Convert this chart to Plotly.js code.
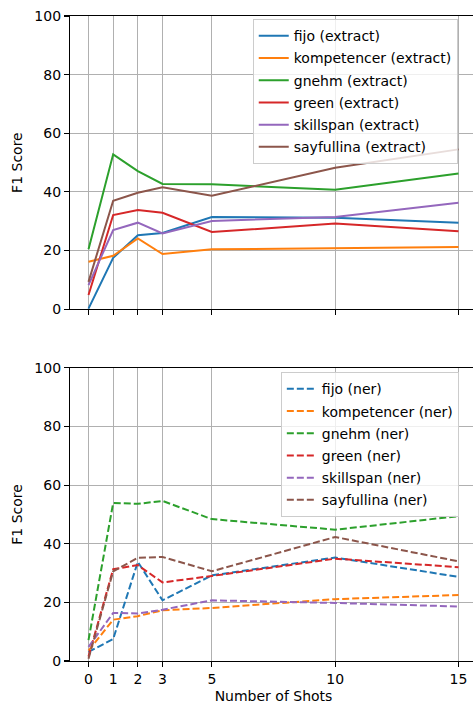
<!DOCTYPE html>
<html>
<head>
<meta charset="utf-8">
<script src="https://cdn.plot.ly/plotly-3.0.1.min.js"></script>
<style>
html,body{margin:0;padding:0;overflow:hidden;background:#fff;}
#chart{width:477px;height:704px;}
</style>
</head>
<body>
<div id="chart"></div>
<script>
const shots = [0, 1, 2, 3, 5, 10, 15];
const datasets = ["fijo", "kompetencer", "gnehm", "green", "skillspan", "sayfullina"];
const colors = ["#1f77b4", "#ff7f0e", "#2ca02c", "#d62728", "#9467bd", "#8c564b"];

const fijoExtract        = [0.2, 17.5, 25.2, 26.0, 31.4, 31.2, 29.5];
const kompetencerExtract = [16.2, 18.2, 24.1, 18.8, 20.4, 20.8, 21.2];
const gnehmExtract       = [20.4, 52.8, 47.1, 42.7, 42.6, 40.7, 46.3];
const greenExtract       = [4.8, 32.1, 33.8, 32.9, 26.3, 29.2, 26.6];
const skillspanExtract   = [8.2, 27.0, 29.5, 25.8, 30.1, 31.4, 36.3];
const sayfullinaExtract  = [9.3, 37.0, 39.7, 41.6, 38.7, 48.2, 54.5];

const fijoNer        = [3.1, 7.5, 33.8, 20.7, 29.2, 35.3, 28.7];
const kompetencerNer = [3.5, 14.1, 15.3, 17.3, 18.1, 21.1, 22.5];
const gnehmNer       = [7.1, 53.9, 53.6, 54.6, 48.4, 44.8, 49.4];
const greenNer       = [1.5, 31.3, 32.7, 26.8, 29.0, 34.9, 32.0];
const skillspanNer   = [4.8, 16.4, 16.2, 17.5, 20.7, 19.8, 18.6];
const sayfullinaNer  = [0.8, 30.6, 35.2, 35.5, 30.6, 42.3, 34.0];

const extractSeries = [fijoExtract, kompetencerExtract, gnehmExtract, greenExtract, skillspanExtract, sayfullinaExtract];
const nerSeries = [fijoNer, kompetencerNer, gnehmNer, greenNer, skillspanNer, sayfullinaNer];

const traces = [];
datasets.forEach((d, i) => {
  traces.push({
    x: shots, y: extractSeries[i], type: 'scatter', mode: 'lines',
    name: d + ' (extract)', legendgroup: 'e' + i, legend: 'legend',
    line: {color: colors[i], width: 2},
    xaxis: 'x', yaxis: 'y'
  });
});
datasets.forEach((d, i) => {
  traces.push({
    x: shots, y: nerSeries[i], type: 'scatter', mode: 'lines',
    name: d + ' (ner)', legendgroup: 'n' + i, legend: 'legend2',
    line: {color: colors[i], width: 2, dash: '7px,3px'},
    xaxis: 'x2', yaxis: 'y2'
  });
});

const font = {family: 'DejaVu Sans', size: 14, color: '#000'};
const axisCommon = {
  showline: true, linecolor: '#000', linewidth: 1.1, mirror: true,
  ticks: 'outside', ticklen: 5, tickwidth: 1.1, tickcolor: '#000',
  showgrid: true, gridcolor: '#b0b0b0', gridwidth: 1.1, zeroline: false,
  tickfont: font
};
const xCommon = Object.assign({}, axisCommon, {
  range: [-0.75, 15.75], tickmode: 'array', tickvals: shots, ticktext: shots.map(String)
});
const yCommon = Object.assign({}, axisCommon, {
  range: [0, 100], tickmode: 'array', tickvals: [0, 20, 40, 60, 80, 100]
});

const legendCommon = {
  bgcolor: 'rgba(255,255,255,0.8)', bordercolor: '#cccccc', borderwidth: 1,
  font: font, xanchor: 'left', yanchor: 'top', tracegroupgap: 1, itemwidth: 30
};

const layout = {
  width: 477, height: 704,
  margin: {l: 70, r: 0, t: 16, b: 43},
  paper_bgcolor: '#fff', plot_bgcolor: '#fff',
  font: font,
  showlegend: true,
  xaxis: Object.assign({}, xCommon, {anchor: 'y', showticklabels: false}),
  yaxis: Object.assign({}, yCommon, {domain: [0.5455, 1], anchor: 'x',
    title: {text: 'F1 Score', font: font, standoff: 8}}),
  xaxis2: Object.assign({}, xCommon, {anchor: 'y2',
    title: {text: 'Number of Shots', font: font, standoff: 8}}),
  yaxis2: Object.assign({}, yCommon, {domain: [0, 0.4545], anchor: 'x2',
    title: {text: 'F1 Score', font: font, standoff: 8}}),
  legend: Object.assign({}, legendCommon, {x: 0.449, y: 0.995}),
  legend2: Object.assign({}, legendCommon, {x: 0.518, y: 0.4477})
};

Plotly.newPlot('chart', traces, layout, {displayModeBar: false, staticPlot: true});
</script>
</body>
</html>
